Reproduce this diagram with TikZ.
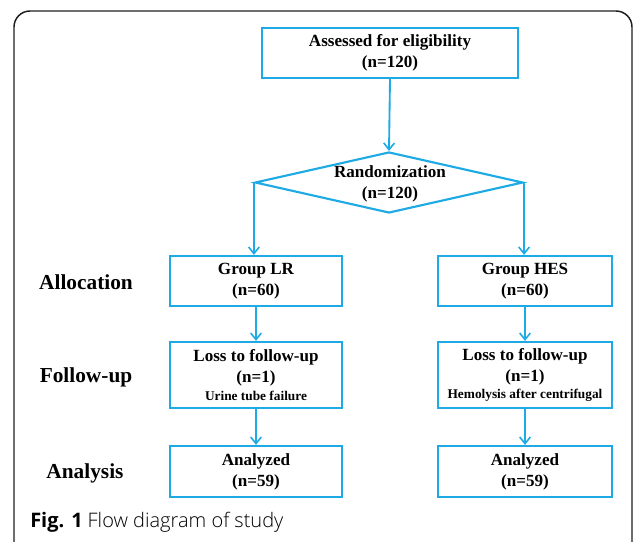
\documentclass[tikz,border=0pt]{standalone}
\usepackage{fontspec}
\setmainfont{Liberation Serif}
\newfontfamily\capfont{Open Sans}
\newfontfamily\caplight{Open Sans Light}
\usetikzlibrary{shapes.geometric,arrows.meta}
\definecolor{flowblue}{RGB}{30,170,228}
\definecolor{framegray}{RGB}{30,30,30}
\tikzset{
  box/.style={draw=flowblue, line width=1.6pt, align=center, inner sep=0pt,
    font=\fontsize{12.8}{15.8}\selectfont\bfseries},
  lbl/.style={font=\fontsize{16}{18}\selectfont\bfseries, inner sep=0pt},
  conn/.style={draw=flowblue, line width=1.4pt, -{Straight Barb[length=5pt,width=8pt,line width=1.2pt]}}
}
\begin{document}
\begin{tikzpicture}[x=0.75pt,y=-0.75pt]
\useasboundingbox (0,0) rectangle (633,542);
\draw[framegray, line width=1.1pt, rounded corners=12pt] (14,560) -- (14,11) -- (632,11) -- (632,560);
% boxes
\node[box, minimum width=192pt, minimum height=37.5pt] (assess) at (390,53) {Assessed for eligibility\\(n=120)};
\node[draw=flowblue, line width=1.6pt, diamond, minimum width=201pt, minimum height=45.75pt, inner sep=0pt] (rand) at (389,182.5) {};
\node[box, draw=none] (randtxt) at (390,184) {Randomization\\(n=120)};
\node[box, minimum width=129pt, minimum height=37.5pt] (lr) at (256,281) {Group LR\\(n=60)};
\node[box, minimum width=130.5pt, minimum height=37.5pt] (hes) at (525,281) {Group HES\\(n=60)};
\node[box, minimum width=129pt, minimum height=49.5pt] (losslr) at (256,375) {Loss to follow-up\\(n=1)\\[-2.5pt]{\fontsize{10}{11}\selectfont Urine tube failure}};
\node[box, minimum width=130.5pt, minimum height=49.5pt] (losshes) at (525,375) {Loss to follow-up\\(n=1)\\[-2.5pt]{\fontsize{10}{11}\selectfont Hemolysis after centrifugal}};
\node[box, minimum width=129pt, minimum height=38.25pt] (anlr) at (256,471.5) {Analyzed\\(n=59)};
\node[box, minimum width=130.5pt, minimum height=38.25pt] (anhes) at (525,471.5) {Analyzed\\(n=59)};
% side labels
\node[lbl] (alloc) at (86,282) {Allocation};
\node[lbl] (follow) at (86,377) {Follow-up};
\node[lbl] (analysis) at (85,473) {Analysis};
% caption
\node[anchor=west, inner sep=0pt, font=\fontsize{15}{18}\selectfont] (cap) at (30,522) {{\capfont\bfseries Fig. 1} {\caplight Flow diagram of study}};
% connectors
\draw[conn] (assess.south) -- (rand.north);
\draw[conn] (rand.west) -- (rand.west |- lr.north);
\draw[conn] (rand.east) -- (rand.east |- hes.north);
\draw[conn] (lr.south) -- (losslr.north);
\draw[conn] (hes.south) -- (losshes.north);
\draw[conn] (losslr.south) -- (anlr.north);
\draw[conn] (losshes.south) -- (anhes.north);
\end{tikzpicture}
\end{document}
